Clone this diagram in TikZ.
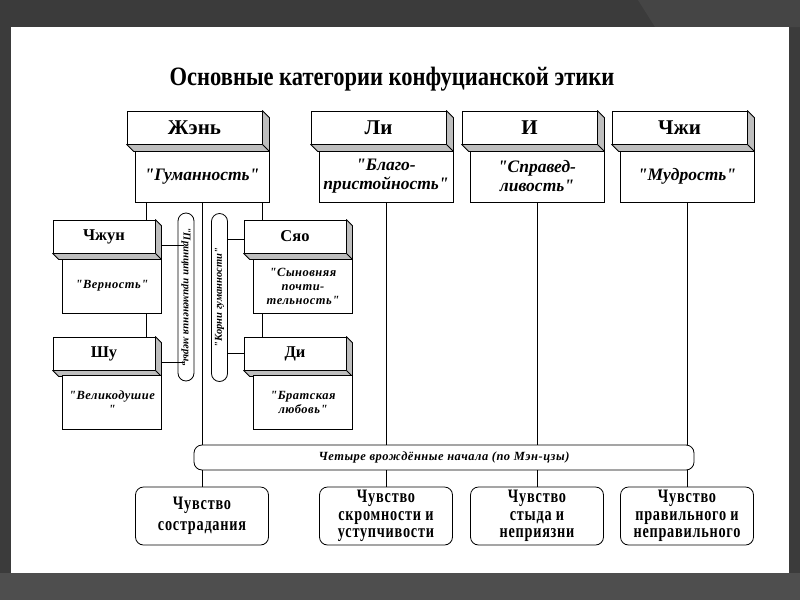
\documentclass[tikz,border=0pt]{standalone}
\usepackage{fontspec}
\setmainfont{Liberation Serif}[Ligatures=TeXOff]
\newfontfamily\condf{Liberation Serif}[FakeStretch=0.75, LetterSpace=4, Ligatures=TeXOff]
\newfontfamily\titf{Liberation Serif}[FakeStretch=0.85, Ligatures=TeXOff]
\newfontfamily\spcf{Liberation Serif}[LetterSpace=4, Ligatures=TeXOff]
\usetikzlibrary{calc}
\definecolor{bgdark}{HTML}{3B3B3B}
\definecolor{bgbot}{HTML}{4E4E4E}
\definecolor{bgstripe}{HTML}{454545}
\definecolor{sidegray}{HTML}{BEBEBE}
\tikzset{
  ln/.style={draw=black, line width=0.8pt},
  hdr/.style={ln, fill=white, minimum width=135pt, minimum height=33pt, inner sep=0pt,
    font=\fontsize{21}{24}\selectfont\bfseries},
  subhdr/.style={ln, fill=white, minimum width=102pt, minimum height=33pt, inner sep=0pt,
    font=\fontsize{16.5}{18}\selectfont\bfseries},
  tdesc/.style={ln, fill=white, minimum width=134pt, minimum height=51pt, inner sep=0pt, align=center,
    font=\fontsize{17.5}{19}\selectfont\bfseries\itshape},
  sdesc/.style={ln, fill=white, minimum width=99pt, minimum height=54pt, inner sep=0pt, align=center,
    font=\fontsize{12.5}{14}\selectfont\spcf\bfseries\itshape},
  pill/.style={ln, fill=white, minimum width=168pt, minimum height=16pt, inner sep=0pt, rounded corners=8pt,
    font=\fontsize{10.5}{12}\selectfont\bfseries\itshape},
  band/.style={ln, fill=white, minimum width=500pt, minimum height=25pt, inner sep=0pt, rounded corners=8pt,
    font=\fontsize{12.5}{13}\selectfont\spcf\bfseries\itshape},
  bbox/.style={ln, fill=white, minimum width=133pt, minimum height=58pt, inner sep=0pt, rounded corners=8pt, align=center,
    font=\fontsize{19}{17.5}\selectfont\condf\bfseries},
  titlef/.style={font=\fontsize{26.5}{30}\selectfont\titf\bfseries, inner sep=0pt}
}
\newcommand\depthbox[2]{%
  \filldraw[fill=sidegray, ln, line join=round] (#1.north east) -- ++(#2,#2) -- ([shift={(#2,#2)}]#1.south east)
    -- ([shift={(#2,#2)}]#1.south west) -- (#1.south west) -- (#1.south east) -- cycle;
  \draw[ln] (#1.south east) -- ++(#2,#2);}
\begin{document}
\begin{tikzpicture}[x=1pt,y=-1pt]
\useasboundingbox (0,0) rectangle (800,600);
\fill[bgdark] (0,0) rectangle (800,600);
\fill[bgbot] (0,573) rectangle (800,600);
\fill[bgstripe] (638,0) -- (800,0) -- (800,27) -- (655,27) -- cycle;
\fill[white] (11,27) rectangle (789,573);

\node[titlef] (title) at (392,79) {Основные категории конфуцианской этики};

% top headers
\node[hdr] (zhen) at (194.5,127.5) {Жэнь};
\node[hdr] (li) at (378.5,127.5) {Ли};
\node[hdr] (yi) at (529.5,127.5) {И};
\node[hdr] (zhi) at (679.5,127.5) {Чжи};
\foreach \n in {zhen,li,yi,zhi} {\depthbox{\n}{7}}

\node[tdesc] (zhenD) at (202,176.5) {"Гуманность"};
\node[tdesc] (liD) at (386,176.5) {"Благо-\\пристойность"};
\node[tdesc] (yiD) at (537,176.5) {"Справед-\\ливость"};
\node[tdesc] (zhiD) at (687,176.5) {"Мудрость"};

% sub boxes
\node[subhdr] (zhong) at (104,236.5) {Чжун};
\node[subhdr] (xiao) at (295,236.5) {Сяо};
\node[subhdr] (shu) at (104,353.5) {Шу};
\node[subhdr] (di) at (295,353.5) {Ди};
\foreach \n in {zhong,xiao,shu,di} {\depthbox{\n}{6}}

\node[sdesc] (zhongD) at (112,286) {"Верность"};
\node[sdesc] (xiaoD) at (303,286) {"Сыновняя\\почти-\\тельность"};
\node[sdesc] (shuD) at (112,402) {"Великодушие\\"};
\node[sdesc] (diD) at (303,402) {"Братская\\любовь"};

% pills
\node[pill, rotate=-90] (pL) at (186,297) {"Принцип применения меры„};
\node[pill, rotate=90] (pR) at (219.5,297.5) {"Корни гуманности"};

% band
\node[band] (band) at (444,457.5) {Четыре врождённые начала (по Мэн-цзы)};

% bottom boxes
\node[bbox] (b1) at (202,516) {Чувство\\[4pt]сострадания};
\node[bbox] (b2) at (386,516) {Чувство\\скромности и\\уступчивости};
\node[bbox] (b3) at (537,516) {Чувство\\стыда и\\неприязни};
\node[bbox] (b4) at (687,516) {Чувство\\правильного и\\неправильного};

% connectors
\draw[ln] ([xshift=-56]zhenD.south) -- ([xshift=-56]zhenD.south |- zhong.north);
\draw[ln] ([xshift=60]zhenD.south) -- ([xshift=60]zhenD.south |- xiao.north);
\draw[ln] ([xshift=-56]zhenD.south |- zhongD.south) -- ([xshift=-56]zhenD.south |- shu.north);
\draw[ln] ([xshift=60]zhenD.south |- xiaoD.south) -- ([xshift=60]zhenD.south |- di.north);
\draw[ln] (zhenD.south) -- (zhenD.south |- band.north);
\draw[ln] (liD.south) -- (liD.south |- band.north);
\draw[ln] (yiD.south) -- (yiD.south |- band.north);
\draw[ln] (zhiD.south) -- (zhiD.south |- band.north);

\draw[ln] ([shift={(6,8.5)}]zhong.east) -- ([shift={(6,8.5)}]zhong.east -| pL.south);
\draw[ln] ([shift={(6,8.5)}]shu.east) -- ([shift={(6,8.5)}]shu.east -| pL.south);
\draw[ln] ([yshift=-2.5]xiao.west) -- ([yshift=-2.5]xiao.west -| pR.south);
\draw[ln] (di.west) -- (di.west -| pR.south);

\foreach \b in {b1,b2,b3,b4} {\draw[ln] (\b.north |- band.south) -- (\b.north);}
\end{tikzpicture}
\end{document}
